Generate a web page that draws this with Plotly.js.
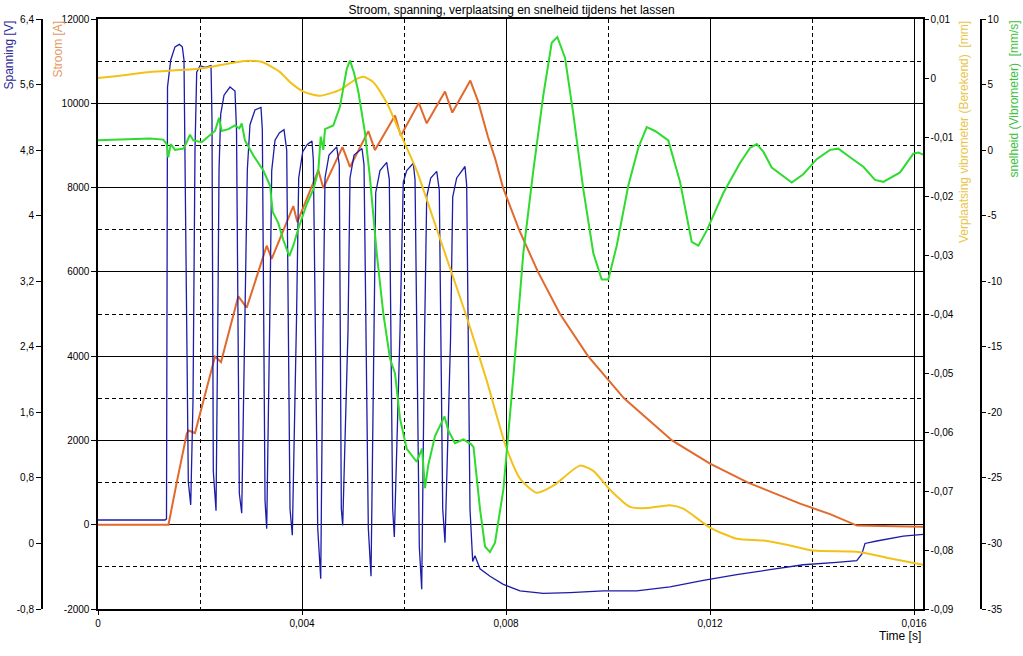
<!DOCTYPE html>
<html><head><meta charset="utf-8">
<script src="https://cdn.plot.ly/plotly-3.0.1.min.js"></script>
<style>html,body{margin:0;padding:0;background:#fff}#chart{width:1023px;height:656px}</style>
</head><body><div id="chart"></div>
<script>
// ---- Spanning [V] (blue) ----
const timeSpanning = [0,0.001314,0.001343,0.001363,0.001426,0.001510,0.001594,0.001653,0.001686,0.001706,0.001771,0.001818,
0.001863,0.001902,0.001935,0.002000,0.002098,0.002216,0.002235,0.002261,0.002314,
0.002353,0.002373,0.002406,0.002471,0.002588,0.002686,0.002716,0.002771,0.002818,
0.002892,0.002928,0.002980,0.003078,0.003196,0.003222,0.003275,0.003308,
0.003373,0.003406,0.003471,0.003555,0.003647,0.003700,0.003765,0.003810,
0.003892,0.003935,0.004014,0.004104,0.004196,0.004222,0.004308,0.004367,
0.004412,0.004451,0.004529,0.004680,0.004731,0.004771,0.004798,
0.004902,0.004941,0.005020,0.005177,0.005216,0.005300,0.005353,
0.005412,0.005445,0.005529,0.005661,0.005712,0.005778,0.005810,
0.005922,0.005986,0.006053,0.006182,0.006216,0.006300,0.006347,
0.006402,0.006445,0.006524,0.006641,0.006692,0.006759,0.006804,
0.006912,0.006955,0.007033,0.007196,0.007229,0.007294,0.007347,0.007392,0.007490,0.007686,0.007947,
0.008275,0.008731,0.009255,0.009908,0.010563,0.011216,0.011869,0.012524,0.013176,0.013829,0.014484,
0.014877,0.014975,0.015039,0.015269,0.015790,0.016176];
const spanning = [0.286,0.286,0.30,5.57,5.90,6.06,6.09,6.06,5.90,4.80,0.75,0.47,
1.75,4.80,5.75,5.83,5.81,5.83,5.17,0.88,0.40,
2.97,4.56,5.24,5.47,5.57,5.52,5.05,0.61,0.37,
2.97,4.56,5.11,5.29,5.32,5.05,0.52,0.18,
2.97,4.55,4.92,5.01,5.05,4.80,0.42,0.10,
2.73,4.46,4.78,4.87,4.91,4.68,0.19,-0.43,
2.60,4.46,4.74,4.84,4.62,0.42,0.22,
2.60,4.46,4.74,4.82,4.62,0.19,-0.40,
2.60,4.28,4.55,4.65,4.44,0.42,0.08,
2.60,4.41,4.55,4.64,4.44,-0.04,-0.56,
2.48,4.23,4.46,4.54,4.31,0.42,0.01,
2.48,4.23,4.46,4.60,4.37,0.42,-0.22,-0.15,-0.31,-0.40,-0.50,
-0.58,-0.61,-0.60,-0.58,-0.58,-0.53,-0.45,-0.38,-0.32,-0.26,-0.23,
-0.21,-0.13,0.00,0.03,0.09,0.11];

// ---- Stroom [A] (orange) ----
const timeStroom = [0,0.001382,0.001543,0.001739,0.001775,0.001902,0.002294,0.002412,0.002751,0.002916,0.003308,0.003406,
0.003829,0.003908,0.004320,0.004418,0.004794,0.004941,0.005300,0.005431,0.005824,0.005937,0.006290,0.006445,
0.006804,0.006947,0.007300,0.007451,0.007647,0.007784,0.007941,0.008255,0.008627,0.009059,0.009608,0.010314,
0.011255,0.012000,0.012745,0.013765,0.014353,0.014882,0.016176];
const stroom = [0,0,1000,2150,2235,2175,3990,3860,5420,5150,6620,6310,
7560,7180,8410,7990,8960,8490,9340,8890,9710,9230,10010,9525,
10280,9780,10540,10050,9200,8700,8000,7000,6000,5000,4000,3000,
2000,1450,1000,500,250,-20,-50];

// ---- Verplaatsing vibrometer (Berekend) [mm] (yellow) ----
const timeVerplaatsing = [0,0.000431,0.001020,0.002000,0.002882,0.003216,0.003569,0.003765,0.004026,0.004353,0.004745,
0.005039,0.005202,0.005398,0.005661,0.005922,0.006249,0.006575,0.006902,0.007229,0.007622,0.008000,0.008275,
0.008602,0.008928,0.009451,0.009712,0.010039,0.010431,0.010759,0.011216,0.011477,0.012000,0.012524,0.013045,
0.013504,0.014026,0.014877,0.015465,0.016176];
const verplaatsing = [0,0.0004,0.0010,0.0016,0.0029,0.0027,0.0010,-0.0007,-0.0023,-0.0030,-0.0020,
-0.0003,0.0002,-0.0007,-0.0042,-0.0093,-0.0157,-0.0239,-0.0322,-0.0405,-0.0513,-0.0625,-0.0679,
-0.0703,-0.0691,-0.0657,-0.0666,-0.0698,-0.0727,-0.0729,-0.0724,-0.0730,-0.0762,-0.0781,-0.0784,
-0.0791,-0.0801,-0.0803,-0.0813,-0.0825];

// ---- snelheid (Vibrometer) [mm/s] (green) ----
const timeSnelheid = [0,0.001020,0.001280,0.001347,0.001378,0.001426,0.001510,0.001673,0.001739,0.001804,0.001869,
0.002033,0.002163,0.002294,0.002373,0.002426,0.002555,0.002686,0.002771,0.002818,0.002882,0.003045,0.003241,
0.003373,0.003426,0.003535,0.003633,0.003751,0.003829,0.003928,0.004092,0.004222,0.004320,0.004367,0.004418,
0.004451,0.004614,0.004745,0.004810,0.004877,0.004941,0.005020,0.005104,0.005235,0.005333,0.005465,0.005594,
0.005725,0.005824,0.005922,0.006053,0.006249,0.006353,0.006412,0.006477,0.006608,0.006794,0.006869,0.007000,
0.007163,0.007314,0.007363,0.007490,0.007588,0.007686,0.007784,0.007947,0.008143,0.008339,0.008535,0.008731,
0.008896,0.009006,0.009157,0.009320,0.009516,0.009712,0.009877,0.010006,0.010171,0.010398,0.010594,0.010759,
0.010922,0.011182,0.011412,0.011641,0.011771,0.011935,0.012261,0.012588,0.012784,0.012916,0.013045,0.013210,
0.013437,0.013602,0.013829,0.014092,0.014353,0.014516,0.014745,0.015006,0.015235,0.015398,0.015726,0.015986,
0.016084,0.016176];
const snelheid = [0.76,0.89,0.80,0.46,-0.55,0.46,0.02,0.11,0.60,1.17,0.74,
0.60,1.03,1.46,2.46,1.46,1.60,1.88,1.66,2.03,0.74,-0.40,-1.56,
-2.70,-4.71,-5.57,-6.86,-8.09,-7.29,-6.00,-4.13,-2.99,-1.56,1.03,0.02,
1.60,1.88,3.32,4.75,6.19,6.82,5.90,4.47,1.31,-2.13,-7.86,-12.45,
-15.89,-17.04,-20.48,-22.78,-23.77,-22.77,-25.78,-23.99,-21.81,-20.31,-21.39,-22.35,
-22.07,-22.42,-22.65,-27.36,-30.23,-30.66,-29.94,-25.92,-17.32,-7.86,-1.56,4.18,
8.19,8.63,7.05,2.75,-2.99,-7.86,-9.87,-9.87,-7.29,-2.70,0.17,1.75,
1.46,0.74,-2.42,-7.00,-7.29,-6.14,-3.27,-0.98,0.17,0.46,-0.12,-1.33,
-1.98,-2.47,-1.84,-0.69,0.02,0.11,-0.55,-1.27,-2.27,-2.42,-1.70,-0.27,
-0.18,-0.35];

// ---- tick labels ----
const timeTicks = [0,0.004,0.008,0.012,0.016];
const timeTickText = ['0','0,004','0,008','0,012','0,016'];
const stroomTicks = [-2000,0,2000,4000,6000,8000,10000,12000];
const stroomTickText = ['-2000','0','2000','4000','6000','8000','10000','12000'];
const spanningTicks = [-0.8,0,0.8,1.6,2.4,3.2,4,4.8,5.6,6.4];
const spanningTickText = ['-0,8','0','0,8','1,6','2,4','3,2','4','4,8','5,6','6,4'];
const verplTicks = [-0.09,-0.08,-0.07,-0.06,-0.05,-0.04,-0.03,-0.02,-0.01,0,0.01];
const verplTickText = ['-0,09','-0,08','-0,07','-0,06','-0,05','-0,04','-0,03','-0,02','-0,01','0','0,01'];
const snelTicks = [-35,-30,-25,-20,-15,-10,-5,0,5,10];
const snelTickText = ['-35','-30','-25','-20','-15','-10','-5','0','5','10'];

const W = 1023, H = 656;
const FONT = 'Liberation Sans, Arial, sans-serif';

const traces = [
  {x: timeStroom, y: stroom, yaxis: 'y', type: 'scatter', mode: 'lines', name: 'Stroom [A]',
   line: {color: '#e2692c', width: 2}},
  {x: timeSpanning, y: spanning, yaxis: 'y2', type: 'scatter', mode: 'lines', name: 'Spanning [V]',
   line: {color: '#1c1ca8', width: 1.3}},
  {x: timeVerplaatsing, y: verplaatsing, yaxis: 'y3', type: 'scatter', mode: 'lines', name: 'Verplaatsing',
   line: {color: '#f2c21a', width: 2, shape: 'spline', smoothing: 0.6}},
  {x: timeSnelheid, y: snelheid, yaxis: 'y4', type: 'scatter', mode: 'lines', name: 'snelheid',
   line: {color: '#2edb2e', width: 2}}
];

const axBase = {showline: true, linecolor: '#000', linewidth: 1.6, ticks: 'outside', ticklen: 5,
  tickcolor: '#000', tickwidth: 1, zeroline: false, tickfont: {family: FONT, size: 10, color: '#000'}};

const layout = {
  width: W, height: H,
  margin: {l: 0, r: 0, t: 19, b: 47},
  paper_bgcolor: '#fff', plot_bgcolor: '#fff', showlegend: false,
  font: {family: FONT, size: 10, color: '#000'},
  title: {text: 'Stroom, spanning, verplaatsing en snelheid tijdens het lassen',
    font: {family: FONT, size: 12, color: '#000'}, x: 0.5, xanchor: 'center', xref: 'paper',
    y: 1 - 10 / H, yref: 'container', yanchor: 'middle'},
  xaxis: Object.assign({}, axBase, {
    domain: [98 / W, 923 / W], range: [0, 0.016176], mirror: true, ticklen: 4,
    tickmode: 'array', tickvals: timeTicks, ticktext: timeTickText,
    showgrid: true, gridcolor: '#000', gridwidth: 1,
    minor: {tickmode: 'linear', tick0: 0, dtick: 0.002, showgrid: true, gridcolor: '#000',
      griddash: '4px,3px', gridwidth: 1, ticks: ''}
  }),
  yaxis: Object.assign({}, axBase, {
    range: [-2000, 12000], side: 'left', anchor: 'x',
    tickmode: 'array', tickvals: stroomTicks, ticktext: stroomTickText,
    showgrid: true, gridcolor: '#000', gridwidth: 1,
    minor: {tickmode: 'linear', tick0: -2000, dtick: 1000, showgrid: true, gridcolor: '#000',
      griddash: '4px,3px', gridwidth: 1, ticks: ''}
  }),
  yaxis2: Object.assign({}, axBase, {
    range: [-0.8, 6.4], overlaying: 'y', side: 'left', anchor: 'free', position: 41 / W,
    tickmode: 'array', tickvals: spanningTicks, ticktext: spanningTickText, showgrid: false
  }),
  yaxis3: Object.assign({}, axBase, {
    range: [-0.09, 0.01], overlaying: 'y', side: 'right', anchor: 'x', ticklen: 4,
    tickmode: 'array', tickvals: verplTicks, ticktext: verplTickText, showgrid: false
  }),
  yaxis4: Object.assign({}, axBase, {
    range: [-35, 10], overlaying: 'y', side: 'right', anchor: 'free', position: 980 / W, ticklen: 4,
    tickmode: 'array', tickvals: snelTicks, ticktext: snelTickText, showgrid: false
  }),
  annotations: [
    {text: 'Spanning [V]', xref: 'paper', yref: 'paper', x: 8 / W, y: 1, xanchor: 'center', yanchor: 'top',
     textangle: -90, showarrow: false, font: {family: FONT, size: 12, color: '#2a2a9a'}},
    {text: 'Stroom [A]', xref: 'paper', yref: 'paper', x: 57 / W, y: 1, xanchor: 'center', yanchor: 'top',
     textangle: -90, showarrow: false, font: {family: FONT, size: 12, color: '#e59a63'}},
    {text: 'Verplaatsing vibrometer (Berekend)  [mm]', xref: 'paper', yref: 'paper', x: 964 / W, y: 1,
     xanchor: 'center', yanchor: 'top', textangle: -90, showarrow: false,
     font: {family: FONT, size: 12, color: '#e8c54a'}},
    {text: 'snelheid (Vibrometer)  [mm/s]', xref: 'paper', yref: 'paper', x: 1013 / W, y: 1,
     xanchor: 'center', yanchor: 'top', textangle: -90, showarrow: false,
     font: {family: FONT, size: 12, color: '#3cc23c'}},
    {text: 'Time [s]', xref: 'paper', yref: 'paper', x: 923 / W, y: -27 / 590,
     xanchor: 'right', yanchor: 'middle', showarrow: false, font: {family: FONT, size: 12, color: '#000'}}
  ]
};

Plotly.newPlot('chart', traces, layout, {displayModeBar: false, staticPlot: true});
</script>
</body></html>
